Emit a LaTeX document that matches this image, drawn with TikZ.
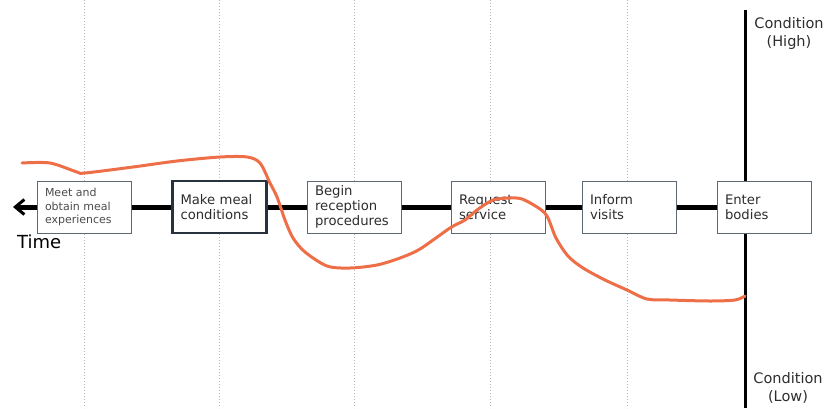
\documentclass[tikz,border=0pt]{standalone}
\usepackage{fontspec}
\setmainfont{DejaVu Sans}
\usetikzlibrary{arrows.meta}
\definecolor{curveor}{RGB}{238,110,72}
\definecolor{boxgray}{RGB}{95,105,115}
\definecolor{boxdark}{RGB}{40,50,62}
\definecolor{txtgray}{RGB}{45,45,45}
\definecolor{dotgray}{RGB}{185,185,185}
\begin{document}
\begin{tikzpicture}[x=1pt,y=-1pt,
  stagebox/.style={draw=boxgray, line width=1pt, fill=white, minimum width=94pt,
    minimum height=52pt, inner sep=0pt, text width=78pt, align=left,
    font=\fontsize{13.2}{15.2}\selectfont, text=txtgray},
  smallbox/.style={stagebox, font=\fontsize{11}{13.2}\selectfont, text=txtgray!85!white},
  keybox/.style={stagebox, draw=boxdark, line width=2.5pt},
  guide/.style={dotgray, line width=1pt, dotted},
  timeline/.style={line width=5pt, black},
  axisline/.style={line width=3pt, black},
  condcurve/.style={curveor, line width=3pt, line cap=round, line join=round},
  condlabel/.style={font=\fontsize{14.5}{18}\selectfont, text=txtgray, align=center, inner sep=0pt}
]
\useasboundingbox (0,0) rectangle (827,408);
% dotted guides
\foreach \gx/\gn in {84/g1,219/g2,354/g3,490/g4,627/g5}{
  \coordinate (\gn t) at (\gx,0);
  \coordinate (\gn b) at (\gx,408);
  \draw[guide] (\gn t) -- (\gn b);
}
% vertical axis
\coordinate (axtop) at (745,10);
\coordinate (axbot) at (745,408);
\draw[axisline] (axtop) -- (axbot);
% time arrow tip
\coordinate (tip) at (13,207);
% boxes
\node[smallbox] (b1) at (84,207) {Meet and\\obtain meal\\experiences};
\node[keybox] (b2) at (219.5,207) {Make meal\\conditions};
\node[stagebox] (b3) at (354,207) {Begin\\reception\\procedures};
\node[stagebox] (b4) at (498,207) {Request\\service};
\node[stagebox] (b5) at (629,207) {Inform\\visits};
\node[stagebox] (b6) at (764,207) {Enter\\bodies};
% timeline segments
\draw[timeline, -{Straight Barb[length=9pt,width=15pt,line width=3pt]}] (b1.west) -- (tip);
\draw[timeline] (b1.east) -- (b2.west);
\draw[timeline] (b2.east) -- (b3.west);
\draw[timeline] (b3.east) -- (b4.west);
\draw[timeline] (b4.east) -- (b5.west);
\draw[timeline] (b5.east) -- (b6.west);
% labels
\node[anchor=north west, inner sep=0pt, font=\fontsize{18}{19}\selectfont, text=black] (time) at (17,235) {Time};
\node[condlabel, anchor=north] (high) at (789,17) {Condition\\(High)};
\node[condlabel, anchor=north] (low) at (788,372) {Condition\\(Low)};
% condition curve
\draw[condcurve] plot[smooth, tension=0.5] coordinates {
 (22,163) (50,163) (77,172) (85,173) (133,167) (177,161) (220,157) (247,157)
 (260,163) (270,183) (277,197) (285,220) (293,238) (305,252) (327,266) (350,268)
 (377,265) (400,258) (420,249) (450,228) (465,220) (477,210) (493,200) (510,198)
 (522,199) (537,207) (547,216) (556,238) (568,256) (583,268) (605,280) (627,290)
 (647,299) (670,300) (710,301) (735,300) (745,296)};
\end{tikzpicture}
\end{document}
